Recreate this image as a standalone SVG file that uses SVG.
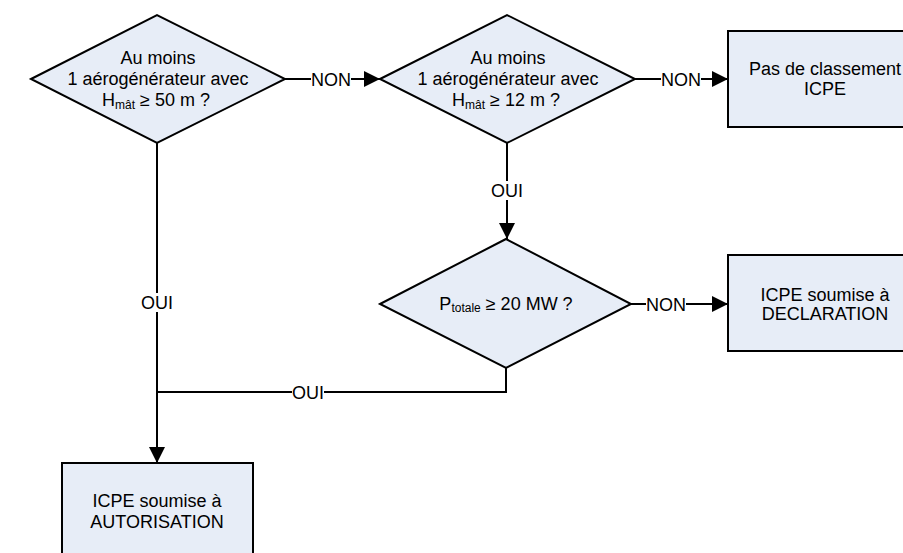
<svg xmlns="http://www.w3.org/2000/svg" width="903" height="553" viewBox="0 0 903 553">
<defs>
<style>
.shape{fill:#E7EDF7;stroke:#000;stroke-width:2}
.t{font-family:"Liberation Sans",Arial,sans-serif;font-size:18px;fill:#000;text-anchor:middle}
.sub{font-size:12px}
.ln{fill:none;stroke:#000;stroke-width:2}
.lbl{font-family:"Liberation Sans",Arial,sans-serif;font-size:18px;fill:#000;text-anchor:middle}
.bg{fill:#fff}
</style>
<marker id="arr" viewBox="0 0 16 16" refX="16" refY="8" markerWidth="16" markerHeight="16" markerUnits="userSpaceOnUse" orient="auto">
<path d="M0,0 L16,8 L0,16 Z" fill="#000"/>
</marker>
</defs>
<rect width="903" height="553" fill="#fff"/>
<g id="connectors">
<line class="ln" x1="285" y1="79" x2="380" y2="79" marker-end="url(#arr)"/>
<line class="ln" x1="635" y1="79" x2="728" y2="79" marker-end="url(#arr)"/>
<line class="ln" x1="507" y1="143" x2="507" y2="239" marker-end="url(#arr)"/>
<line class="ln" x1="631" y1="304" x2="728" y2="304" marker-end="url(#arr)"/>
<line class="ln" x1="157" y1="143" x2="157" y2="463" marker-end="url(#arr)"/>
<polyline class="ln" points="506,368 506,392 157,392"/>
<rect class="bg" x="311" y="70" width="40" height="18"/>
<text class="lbl" x="331" y="85.5">NON</text>
<rect class="bg" x="661" y="70" width="40" height="18"/>
<text class="lbl" x="681" y="85.5">NON</text>
<rect class="bg" x="646" y="295" width="40" height="18"/>
<text class="lbl" x="666" y="310.5">NON</text>
<rect class="bg" x="491" y="181" width="32" height="19"/>
<text class="lbl" x="507" y="197">OUI</text>
<rect class="bg" x="141" y="293" width="32" height="19"/>
<text class="lbl" x="157" y="309">OUI</text>
<rect class="bg" x="292" y="383" width="32" height="18"/>
<text class="lbl" x="308" y="398.5">OUI</text>
</g>
<g id="d1">
<polygon class="shape" points="31,79 157,15 285,79 157,143"/>
<text class="t" x="158" y="64">Au moins</text>
<text class="t" x="158" y="85">1 aérogénérateur avec</text>
<text class="t" x="156" y="106">H<tspan class="sub" dy="3">mât</tspan><tspan dy="-3"> ≥ 50 m ?</tspan></text>
</g>
<g id="d2">
<polygon class="shape" points="380,79 507,15 635,79 507,143"/>
<text class="t" x="508" y="64">Au moins</text>
<text class="t" x="508" y="85">1 aérogénérateur avec</text>
<text class="t" x="506" y="106">H<tspan class="sub" dy="3">mât</tspan><tspan dy="-3"> ≥ 12 m ?</tspan></text>
</g>
<g id="d3">
<polygon class="shape" points="380,304 506,239 631,304 506,368"/>
<text class="t" x="506" y="310">P<tspan class="sub" dy="2">totale</tspan><tspan dy="-2"> ≥ 20 MW ?</tspan></text>
</g>
<g id="b1">
<rect class="shape" x="728" y="31" width="193" height="96"/>
<text class="t" x="825" y="74.5">Pas de classement</text>
<text class="t" x="825" y="95">ICPE</text>
</g>
<g id="b2">
<rect class="shape" x="728" y="255" width="193" height="96"/>
<text class="t" x="825" y="300.5">ICPE soumise à</text>
<text class="t" x="825" y="320">DECLARATION</text>
</g>
<g id="b3">
<rect class="shape" x="62" y="463" width="191" height="96"/>
<text class="t" x="157" y="507">ICPE soumise à</text>
<text class="t" x="157" y="528">AUTORISATION</text>
</g>
</svg>
